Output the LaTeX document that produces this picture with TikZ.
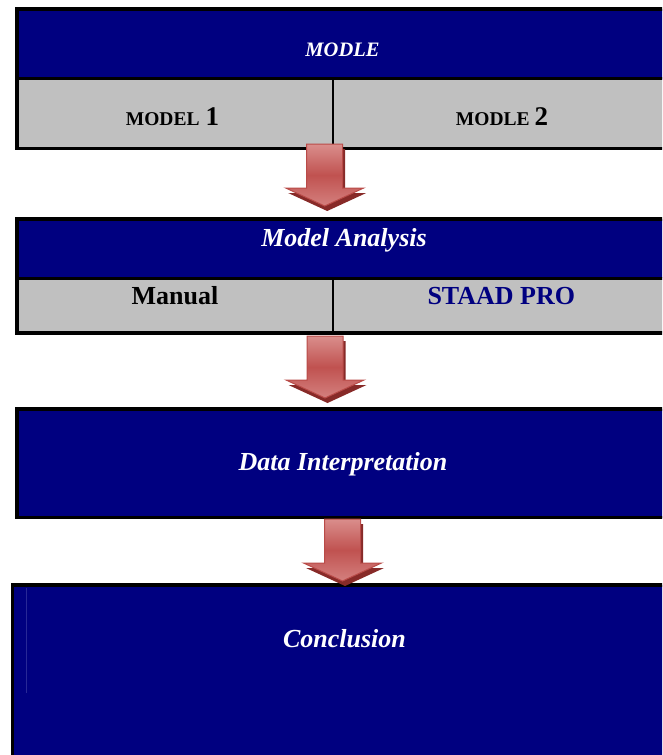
\documentclass[tikz,border=0pt]{standalone}
\usepackage{fontspec}
\setmainfont{Liberation Serif}
\definecolor{navyblue}{RGB}{0,0,128}
\definecolor{cellgray}{RGB}{192,192,192}
\definecolor{arrowedge}{RGB}{185,75,72}
\definecolor{arrowtop}{RGB}{218,142,140}
\definecolor{arrowmid}{RGB}{192,82,80}
\definecolor{arrowlow}{RGB}{212,128,126}
\definecolor{arrowshade}{RGB}{135,42,40}
\definecolor{seamblue}{RGB}{40,40,150}
\tikzset{
  cell/.style={rectangle, draw=none, outer sep=0pt, inner sep=0pt, anchor=north west},
  frame/.style={draw=black, line width=3.8pt},
  rule/.style={draw=black, line width=3pt},
  divider/.style={draw=black, line width=2pt},
  headtxt/.style={text=white, font=\fontsize{26}{30}\selectfont\bfseries\itshape, anchor=base, inner sep=0pt},
  bodytxt/.style={font=\fontsize{26}{30}\selectfont\bfseries, anchor=base, inner sep=0pt},
  flowarrow/.pic={
    % dark bevel behind the block arrow
    \fill[arrowshade] (-15.5,5) -- (20.5,5) -- (20.5,49) -- (41.5,49) -- (2.5,67) -- (-36.5,49) -- (-15.5,49) -- cycle;
    % block arrow with vertical gradient
    \shade[top color=arrowtop, bottom color=arrowlow, middle color=arrowmid, draw=arrowedge, line width=1pt]
      (-18,0) -- (18,0) -- (18,44) -- (39,44) -- (0,62) -- (-39,44) -- (-18,44) -- cycle;
  }
}
\begin{document}
\begin{tikzpicture}[x=1pt,y=-1pt]
\useasboundingbox (0,0) rectangle (662,755);
\clip (0,0) rectangle (662,755);

% ---- block 1: MODLE ----
\node[cell, fill=navyblue, minimum width=660pt, minimum height=69.6pt] (b1top) at (16.9,8.9) {};
\node[cell, fill=cellgray, minimum width=316.1pt, minimum height=70pt] (b1left) at (16.9,78.5) {};
\node[cell, fill=cellgray, minimum width=343.9pt, minimum height=70pt] (b1right) at (333,78.5) {};
\draw[frame] (b1top.north west) rectangle (b1right.south east);
\draw[rule] (b1left.north west) -- (b1right.north east);
\draw[divider] (b1right.north west) -- (b1right.south west);
\node[headtxt, font=\fontsize{20.5}{24}\selectfont\bfseries\itshape] (t1) at (342.5,56.7) {MODLE};
\node[bodytxt, font=\fontsize{19.5}{24}\selectfont\bfseries] (t1a) at (172.5,125.7) {MODEL\hspace{6pt}{\fontsize{27}{30}\selectfont 1}};
\node[bodytxt, font=\fontsize{19.5}{24}\selectfont\bfseries] (t1b) at (502,125.7) {MODLE\hspace{5pt}{\fontsize{27}{30}\selectfont 2}};

% ---- block 2: Model Analysis ----
\node[cell, fill=navyblue, minimum width=660pt, minimum height=59pt] (b2top) at (16.9,219) {};
\node[cell, fill=cellgray, minimum width=316.1pt, minimum height=55pt] (b2left) at (16.9,278) {};
\node[cell, fill=cellgray, minimum width=343.9pt, minimum height=55pt] (b2right) at (333,278) {};
\draw[frame] (b2top.north west) rectangle (b2right.south east);
\draw[rule] (b2left.north west) -- (b2right.north east);
\draw[divider] (b2right.north west) -- (b2right.south west);
\node[headtxt] (t2) at (344,246.7) {Model Analysis};
\node[bodytxt] (t2a) at (175,304) {Manual};
\node[bodytxt, text=navyblue] (t2b) at (501.3,304) {STAAD PRO};

% ---- block 3: Data Interpretation ----
\node[cell, fill=navyblue, minimum width=660pt, minimum height=108.8pt] (b3) at (16.9,408.7) {};
\draw[frame] (b3.north west) rectangle (b3.south east);
\node[headtxt] (t3) at (343,470.5) {Data Interpretation};

% ---- block 4: Conclusion ----
\node[cell, fill=navyblue, minimum width=665pt, minimum height=200pt] (b4) at (12.4,585) {};
\draw[frame] (b4.north west) rectangle (b4.south east);
\draw[seamblue, line width=0.8pt] (26,588) -- (26,693);
\node[headtxt] (t4) at (344.5,647) {Conclusion};

% ---- arrows between the blocks ----
\coordinate (a1) at (324.7,144);
\coordinate (a2) at (325,336);
\coordinate (a3) at (342.5,519);
\pic at (a1) {flowarrow};
\pic at (a2) {flowarrow};
\pic at (a3) {flowarrow};
\end{tikzpicture}
\end{document}
